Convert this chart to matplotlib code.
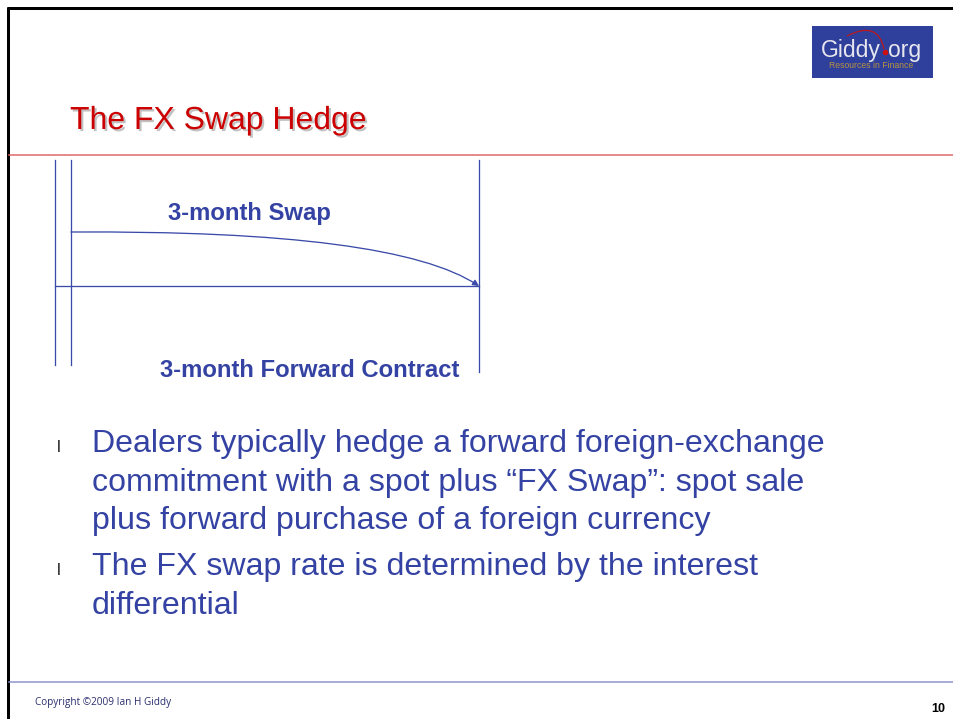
import matplotlib
matplotlib.use('Agg')
import matplotlib.pyplot as plt
import matplotlib.patheffects as pe
from matplotlib.patches import FancyArrowPatch, Rectangle, PathPatch
from matplotlib.path import Path

# slide content
title = 'The FX Swap Hedge'
swap_label = '3-month Swap'
forward_label = '3-month Forward Contract'
bullets = [
    ['Dealers typically hedge a forward foreign-exchange',
     'commitment with a spot plus \u201cFX Swap\u201d: spot sale',
     'plus forward purchase of a foreign currency'],
    ['The FX swap rate is determined by the interest',
     'differential'],
]
logo_name = 'Giddy'
logo_tld = 'org'
logo_tagline = 'Resources in Finance'
footer = 'Copyright \u00a92009 Ian H Giddy'
page_no = '10'

BLUE = '#3443a3'
LINE_BLUE = '#3a4aa8'
RED = '#cc0000'

W, H = 954, 719
fig = plt.figure(figsize=(W / 100, H / 100), dpi=100)
ax = fig.add_axes([0, 0, 1, 1])
ax.set_xlim(0, W)
ax.set_ylim(H, 0)
ax.axis('off')

px = 0.72  # points per pixel at dpi 100

# frame: black top and left borders
ax.plot([7, W], [8, 8], color='black', lw=3 * px, solid_capstyle='butt')
ax.plot([8, 8], [7, H], color='black', lw=3 * px, solid_capstyle='butt')

# title with drop shadow
ax.text(70, 129, title, color=RED, fontsize=23, family='Liberation Sans',
        va='baseline', ha='left',
        path_effects=[pe.SimplePatchShadow(offset=(1.5, -1.5),
                                           shadow_rgbFace='#999999', alpha=0.6),
                      pe.Normal()])
ax.plot([9, W], [155, 155], color='#e06666', lw=1.5 * px)

# logo box
ax.add_patch(Rectangle((812, 26), 121, 52, color='#2f3f9c', lw=0))
ax.text(821, 57, logo_name, color='#e6e6ee', fontsize=16.5,
        family='Liberation Sans', va='baseline', ha='left')
ax.plot([885], [52], 'o', color='#d01010', ms=3)
ax.text(888, 57, logo_tld, color='#e6e6ee', fontsize=16.5,
        family='Liberation Sans', va='baseline', ha='left')
arc = Path([(847, 36), (878, 20), (884, 49)],
           [Path.MOVETO, Path.CURVE3, Path.CURVE3])
ax.add_patch(PathPatch(arc, fill=False, color='#c01818', lw=1.2 * px))
ax.text(871, 66, logo_tagline, color='#b8923e', fontsize=6.2,
        family='Liberation Sans', va='center', ha='center')

# timeline diagram
for x, y1 in [(55, 365), (71, 365), (479, 372)]:
    ax.plot([x, x], [160, y1], color=LINE_BLUE, lw=1.3 * px)
ax.plot([55, 479], [286, 286], color=LINE_BLUE, lw=1.3 * px)
curve = Path([(71, 232), (395, 230), (479, 286)],
             [Path.MOVETO, Path.CURVE3, Path.CURVE3])
ax.add_patch(FancyArrowPatch(path=curve, arrowstyle='-|>', mutation_scale=9,
                             color=LINE_BLUE, lw=1.3 * px))
ax.text(249, 220, swap_label, color=BLUE, fontsize=17.2, fontweight='bold',
        family='Liberation Sans', ha='center', va='baseline')
ax.text(310, 377, forward_label, color=BLUE, fontsize=17.2, fontweight='bold',
        family='Liberation Sans', ha='center', va='baseline')

# bullet points
y = 452
for group in bullets:
    ax.text(57, y, 'l', color='#222222', fontsize=12,
            family='Liberation Sans', va='baseline', ha='left')
    for line in group:
        ax.text(92, y, line, color=BLUE, fontsize=23.1,
                family='Liberation Sans', va='baseline', ha='left')
        y += 38.5
    y += 7.5

# footer
ax.plot([9, W], [682, 682], color='#8c94cc', lw=1.5 * px)
ax.text(35, 703, footer, color='#2a2f6e', fontsize=7.2,
        family='Open Sans', va='center', ha='left')
ax.text(945, 709, page_no, color='black', fontsize=9, fontweight='bold',
        family='Liberation Sans', va='center', ha='right')

fig.savefig('out.png', dpi=100)
